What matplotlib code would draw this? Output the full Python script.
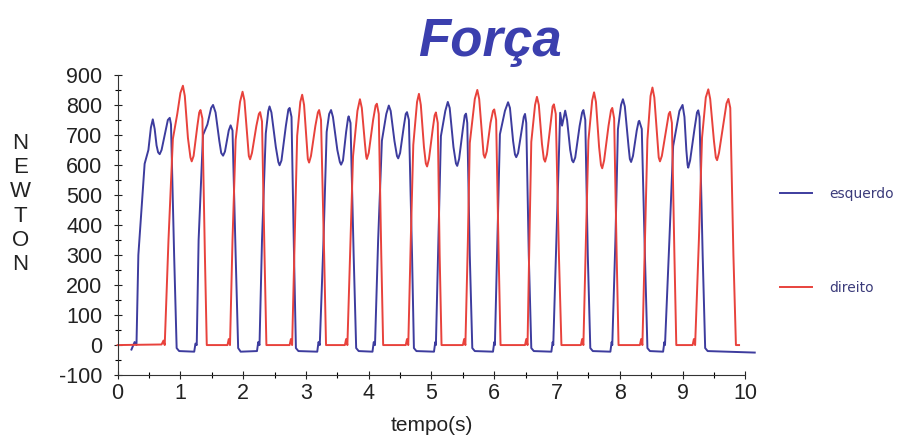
import matplotlib
matplotlib.use("Agg")
import matplotlib.pyplot as plt
from matplotlib.ticker import MultipleLocator

plt.rcParams['font.family'] = ['Liberation Sans', 'DejaVu Sans']
plt.rcParams['axes.unicode_minus'] = False

# left foot (esquerdo): (time s, force N)
esquerdo = [
    (0.22, -15), (0.27, 10), (0.30, 0),
    (0.33, 300), (0.43, 604), (0.49, 650), (0.53, 725), (0.56, 752), (0.59, 720), (0.62, 665),
    (0.645, 642), (0.67, 636), (0.70, 650), (0.76, 710), (0.80, 750), (0.83, 757), (0.85, 735),
    (0.90, 300), (0.94, -10),
    (0.98, -20), (1.22, -22), (1.24, 5), (1.26, 0),
    (1.29, 350), (1.36, 700), (1.43, 735), (1.49, 790), (1.52, 800), (1.56, 775), (1.62, 680),
    (1.65, 640), (1.68, 631), (1.71, 645), (1.77, 715), (1.80, 732), (1.83, 715), (1.88, 300), (1.92, -10),
    (1.96, -22), (2.22, -20), (2.24, 10), (2.26, 0),
    (2.30, 350), (2.36, 705), (2.40, 780), (2.42, 795), (2.45, 775), (2.52, 660), (2.56, 610),
    (2.58, 599), (2.61, 615), (2.68, 730), (2.72, 785), (2.74, 790), (2.77, 760), (2.81, 300), (2.84, -10),
    (2.88, -20), (3.18, -22), (3.20, 10), (3.22, 0),
    (3.28, 350), (3.33, 710), (3.37, 770), (3.40, 783), (3.43, 760), (3.50, 650), (3.54, 610),
    (3.56, 601), (3.59, 615), (3.64, 710), (3.67, 755), (3.68, 762), (3.71, 740), (3.76, 300), (3.80, -10),
    (3.84, -20), (4.06, -22), (4.08, 10), (4.10, 0),
    (4.15, 350), (4.21, 681), (4.28, 770), (4.32, 798), (4.35, 780), (4.41, 680), (4.45, 630),
    (4.47, 622), (4.50, 640), (4.56, 730), (4.59, 770), (4.61, 776), (4.64, 750), (4.69, 300), (4.72, -10),
    (4.76, -20), (5.04, -22), (5.06, 10), (5.07, 0),
    (5.11, 350), (5.15, 696), (5.22, 780), (5.26, 810), (5.29, 790), (5.35, 660), (5.39, 605),
    (5.41, 597), (5.44, 620), (5.50, 720), (5.53, 765), (5.55, 771), (5.57, 740), (5.61, 300), (5.65, -10),
    (5.69, -20), (5.98, -22), (6.00, 10), (6.01, 0),
    (6.05, 350), (6.09, 702), (6.17, 780), (6.22, 809), (6.25, 790), (6.30, 680), (6.33, 635),
    (6.35, 626), (6.38, 640), (6.44, 720), (6.47, 760), (6.49, 770), (6.51, 740), (6.55, 300), (6.59, -10),
    (6.63, -20), (6.91, -22), (6.93, 10), (6.94, 0),
    (6.99, 350), (7.05, 774), (7.08, 731), (7.13, 781), (7.16, 750), (7.21, 650), (7.24, 615),
    (7.26, 609), (7.29, 625), (7.36, 730), (7.40, 775), (7.42, 783), (7.45, 750), (7.49, 300), (7.53, -10),
    (7.57, -20), (7.85, -22), (7.87, 10), (7.88, 0),
    (7.93, 350), (7.97, 719), (8.02, 800), (8.05, 819), (8.08, 795), (8.14, 660), (8.16, 620),
    (8.18, 610), (8.21, 630), (8.27, 715), (8.30, 745), (8.31, 747), (8.35, 720), (8.40, 300), (8.44, -10),
    (8.48, -20), (8.69, -22), (8.71, 10), (8.72, 0),
    (8.79, 350), (8.85, 663), (8.95, 780), (9.00, 800), (9.03, 760), (9.06, 650), (9.08, 600),
    (9.09, 591), (9.12, 615), (9.19, 720), (9.23, 775), (9.25, 782), (9.27, 760), (9.32, 300), (9.36, -10),
    (9.40, -20), (10.15, -25),
]

# right foot (direito)
direito = [
    (0.00, 0), (0.70, 2), (0.73, 15), (0.75, 0),
    (0.81, 350), (0.88, 687), (0.95, 770), (1.00, 840), (1.04, 864), (1.07, 830), (1.12, 690),
    (1.16, 625), (1.18, 612), (1.21, 630), (1.27, 730), (1.30, 775), (1.32, 783), (1.35, 755), (1.39, 300), (1.42, 0),
    (1.46, 0), (1.75, 0), (1.77, 20), (1.79, 0),
    (1.83, 350), (1.88, 684), (1.95, 810), (1.99, 844), (2.02, 815), (2.07, 680), (2.09, 630),
    (2.11, 619), (2.14, 640), (2.21, 730), (2.25, 770), (2.27, 776), (2.30, 745), (2.34, 300), (2.37, 0),
    (2.41, 0), (2.74, 0), (2.76, 20), (2.78, 0),
    (2.82, 350), (2.86, 697), (2.91, 810), (2.94, 834), (2.97, 800), (3.01, 680), (3.03, 620),
    (3.05, 608), (3.08, 630), (3.15, 730), (3.19, 775), (3.21, 783), (3.24, 750), (3.29, 300), (3.32, 0),
    (3.36, 0), (3.62, 0), (3.64, 20), (3.66, 0),
    (3.71, 350), (3.75, 629), (3.82, 780), (3.86, 819), (3.89, 790), (3.94, 670), (3.96, 628),
    (3.97, 620), (4.00, 640), (4.07, 750), (4.11, 798), (4.13, 804), (4.16, 770), (4.20, 300), (4.23, 0),
    (4.27, 0), (4.59, 0), (4.61, 20), (4.63, 0),
    (4.67, 350), (4.71, 667), (4.77, 810), (4.80, 837), (4.83, 800), (4.88, 660), (4.91, 605),
    (4.93, 595), (4.96, 620), (5.02, 720), (5.05, 765), (5.07, 775), (5.10, 740), (5.13, 300), (5.16, 0),
    (5.20, 0), (5.50, 0), (5.52, 20), (5.54, 0),
    (5.58, 350), (5.61, 673), (5.69, 820), (5.73, 850), (5.76, 820), (5.81, 690), (5.83, 635),
    (5.85, 624), (5.88, 645), (5.94, 740), (5.98, 780), (6.00, 785), (6.03, 750), (6.07, 300), (6.10, 0),
    (6.14, 0), (6.49, 0), (6.51, 20), (6.53, 0),
    (6.56, 350), (6.59, 677), (6.65, 800), (6.68, 827), (6.71, 800), (6.76, 670), (6.79, 620),
    (6.81, 611), (6.84, 635), (6.90, 740), (6.93, 795), (6.95, 802), (6.98, 770), (7.03, 300), (7.07, 0),
    (7.11, 0), (7.38, 0), (7.40, 20), (7.42, 0),
    (7.46, 350), (7.50, 682), (7.56, 815), (7.59, 842), (7.62, 810), (7.67, 660), (7.70, 600),
    (7.72, 589), (7.75, 615), (7.82, 730), (7.86, 782), (7.88, 790), (7.91, 755), (7.95, 300), (7.98, 0),
    (8.02, 0), (8.32, 0), (8.34, 20), (8.36, 0),
    (8.40, 350), (8.44, 685), (8.49, 830), (8.52, 858), (8.55, 825), (8.60, 680), (8.62, 625),
    (8.64, 612), (8.67, 630), (8.74, 720), (8.78, 770), (8.80, 777), (8.83, 740), (8.87, 300), (8.90, 0),
    (8.94, 0), (9.16, 0), (9.18, 20), (9.20, 0),
    (9.26, 350), (9.31, 691), (9.37, 825), (9.41, 852), (9.44, 820), (9.50, 680), (9.53, 625),
    (9.55, 616), (9.58, 640), (9.66, 750), (9.70, 805), (9.73, 820), (9.76, 790), (9.81, 300), (9.85, 0),
    (9.90, 0),
]

x_ticks = list(range(0, 11))
y_ticks = list(range(-100, 1000, 100))

esq_t, esq_f = zip(*esquerdo)
dir_t, dir_f = zip(*direito)

blue = '#3d3c9e'
red = '#e8423c'

fig = plt.figure(figsize=(8.98, 4.46), dpi=100)
ax = fig.add_axes([0.131, 0.159, 0.699, 0.673])

ax.plot(esq_t, esq_f, color=blue, lw=1.4, label='esquerdo', clip_on=False,
        solid_joinstyle='round')
ax.plot(dir_t, dir_f, color=red, lw=1.4, label='direito', clip_on=False,
        solid_joinstyle='round')

ax.set_xlim(0, 10)
ax.set_ylim(-100, 900)
ax.set_xticks(x_ticks)
ax.set_yticks(y_ticks)
ax.xaxis.set_minor_locator(MultipleLocator(0.5))
ax.yaxis.set_minor_locator(MultipleLocator(50))
ax.tick_params(which='major', direction='inout', length=6, width=0.8, labelsize=15.5, colors='#222222')
ax.tick_params(which='minor', direction='inout', length=4, width=0.8)
ax.tick_params(axis='y', pad=8)
ax.tick_params(axis='x', pad=3)

for s in ['top', 'right']:
    ax.spines[s].set_visible(False)
for s in ['left', 'bottom']:
    ax.spines[s].set_color('#333333')

ax.set_xlabel('tempo(s)', fontsize=15, labelpad=8, color='#222222')
ax.set_ylabel('N\nE\nW\nT\nO\nN', rotation=0, fontsize=16, linespacing=1.2,
              va='center', ha='center', color='#222222')
ax.yaxis.set_label_coords(-0.155, 0.57)

fig.text(0.546, 0.905, 'Força', fontsize=38, fontweight='bold', fontstyle='italic',
         color='#3b3fae', ha='center', va='center')

fig.legend(loc='center left', bbox_to_anchor=(0.855, 0.46), frameon=False,
           labelspacing=5.8, handlelength=2.3, handletextpad=1.2,
           prop={'family': 'DejaVu Sans', 'size': 10}, labelcolor='#3b3b7a')

fig.savefig('out.png', dpi=100)
